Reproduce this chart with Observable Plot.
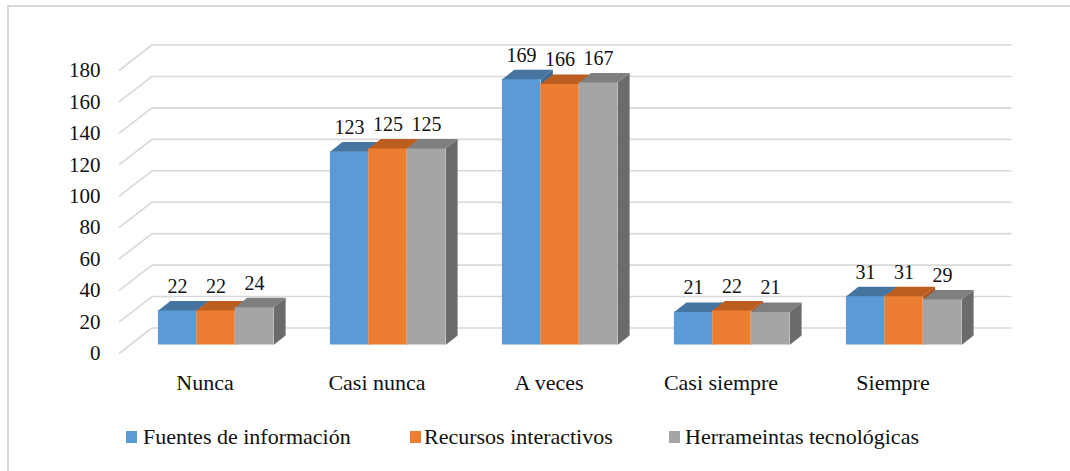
<!DOCTYPE html>
<html>
<head>
<meta charset="utf-8">
<script src="https://cdn.jsdelivr.net/npm/d3@7"></script>
<script src="https://cdn.jsdelivr.net/npm/@observablehq/plot@0.6"></script>
<style>
  html, body { margin: 0; padding: 0; background: #fff; overflow: hidden; width: 1070px; height: 471px; }
  #frame { position: absolute; left: 7px; top: 5px; width: 1200px; height: 600px;
           border-left: 2px solid #d9d9d9; border-top: 2px solid #d9d9d9; }
  #chart { position: absolute; left: 0; top: 0; }
  .leg { position: absolute; top: 424px; font-family: "Times New Roman", "Liberation Serif", serif;
         font-size: 22px; color: #111; white-space: nowrap; line-height: 26px; }
  .sw { position: absolute; top: 431px; width: 11px; height: 12px; }
</style>
</head>
<body>
<div id="frame"></div>
<div id="chart"></div>
<div id="legend"></div>
<script>
// ---- data ----
const categories = ["Nunca", "Casi nunca", "A veces", "Casi siempre", "Siempre"];
const seriesNames = ["Fuentes de información", "Recursos interactivos", "Herrameintas tecnológicas"];
const fuentes = [22, 123, 169, 21, 31];
const recursos = [22, 125, 166, 22, 31];
const herramientas = [24, 125, 167, 21, 29];
const yTicks = [0, 20, 40, 60, 80, 100, 120, 140, 160, 180];

// ---- style ----
const frontColors = ["#5B9BD5", "#ED7D31", "#A5A5A5"];
const topColors = ["#44749F", "#BB5E1F", "#7F7F7F"];
const sideColors = ["#3E6B94", "#A9531B", "#6B6B6B"];
const font = "'Times New Roman', 'Liberation Serif', serif";

// ---- layout ----
const W = 1070, H = 410;
const mL = 118.5, mR = 91.5, mT = 70, mB = 57;
const pxPerX = (W - mL - mR) / 5;       // px per category
const pxPerY = (H - mT - mB) / 180;     // px per unit
const wallDX = 33, wallDY = 25.5;       // back wall offset (px)
const barDX = 11, barDY = 8.5;          // bar front-face offset (px)
const depthDX = 12, depthDY = 9.5;      // bar depth (px)
const gap = 28.4 / pxPerX, barW = 38.4 / pxPerX;
const ddx = depthDX / pxPerX, ddy = depthDY / pxPerY;

const values = [fuentes, recursos, herramientas];
const bars = [];
categories.forEach((c, i) => {
  values.forEach((vals, j) => {
    const x1 = i + gap + j * barW;
    bars.push({cat: c, s: j, x1, x2: x1 + barW, v: vals[i], id: `${i}-${j}`});
  });
});

const tops = [], sides = [];
for (const b of bars) {
  tops.push(
    {id: b.id, s: b.s, x: b.x1, y: b.v},
    {id: b.id, s: b.s, x: b.x2, y: b.v},
    {id: b.id, s: b.s, x: b.x2 + ddx, y: b.v + ddy},
    {id: b.id, s: b.s, x: b.x1 + ddx, y: b.v + ddy}
  );
  sides.push(
    {id: b.id, s: b.s, x: b.x2, y: 0},
    {id: b.id, s: b.s, x: b.x2, y: b.v},
    {id: b.id, s: b.s, x: b.x2 + ddx, y: b.v + ddy},
    {id: b.id, s: b.s, x: b.x2 + ddx, y: ddy}
  );
}

const grid = "#d9d9d9";
const marks = [
  // back wall gridlines
  Plot.ruleY(yTicks, {y: d => d, x1: () => 0, x2: () => 5, dx: wallDX, dy: -wallDY, stroke: grid, strokeWidth: 1.6}),
  // floor/side diagonals
  Plot.link(yTicks, {x1: () => 0, y1: d => d, x2: () => wallDX / pxPerX, y2: d => d + wallDY / pxPerY, stroke: grid, strokeWidth: 1.6}),
  // y tick labels
  Plot.text(yTicks, {x: () => 0, y: d => d, text: d => String(d), dx: -18.5, textAnchor: "end", fontSize: 21, fill: "#111", fontFamily: font}),
  // category labels
  Plot.text(categories, {x: (d, i) => i + 0.5, y: () => 0, text: d => d, dy: 29, fontSize: 22, fill: "#111", fontFamily: font})
];

for (let j = 0; j < 3; j++) {
  const bj = bars.filter(b => b.s === j);
  marks.push(
    Plot.line(sides.filter(p => p.s === j), {x: "x", y: "y", z: "id", fill: sideColors[j], stroke: "none", dx: barDX, dy: -barDY}),
    Plot.rect(bj, {x1: "x1", x2: "x2", y1: () => 0, y2: "v", fill: frontColors[j], dx: barDX, dy: -barDY}),
    Plot.line(tops.filter(p => p.s === j), {x: "x", y: "y", z: "id", fill: topColors[j], stroke: "none", dx: barDX, dy: -barDY})
  );
}
// data labels
marks.push(Plot.text(bars, {x: b => (b.x1 + b.x2) / 2, y: "v", text: b => String(b.v), dx: barDX, dy: -barDY - 24, fontSize: 20, fill: "#111", fontFamily: font}));

const chart = Plot.plot({
  width: W, height: H,
  marginLeft: mL, marginRight: mR, marginTop: mT, marginBottom: mB,
  x: {domain: [0, 5], axis: null},
  y: {domain: [0, 180], axis: null},
  style: {background: "transparent", fontFamily: font},
  marks
});
document.getElementById("chart").appendChild(chart);

// legend (HTML below the plot area)
const legX = [[126, 143], [410, 424], [669, 685]];
const leg = document.getElementById("legend");
seriesNames.forEach((name, j) => {
  const sw = document.createElement("div");
  sw.className = "sw"; sw.style.left = legX[j][0] + "px"; sw.style.background = frontColors[j];
  const t = document.createElement("div");
  t.className = "leg"; t.style.left = legX[j][1] + "px"; t.textContent = name;
  leg.appendChild(sw); leg.appendChild(t);
});
</script>
</body>
</html>
